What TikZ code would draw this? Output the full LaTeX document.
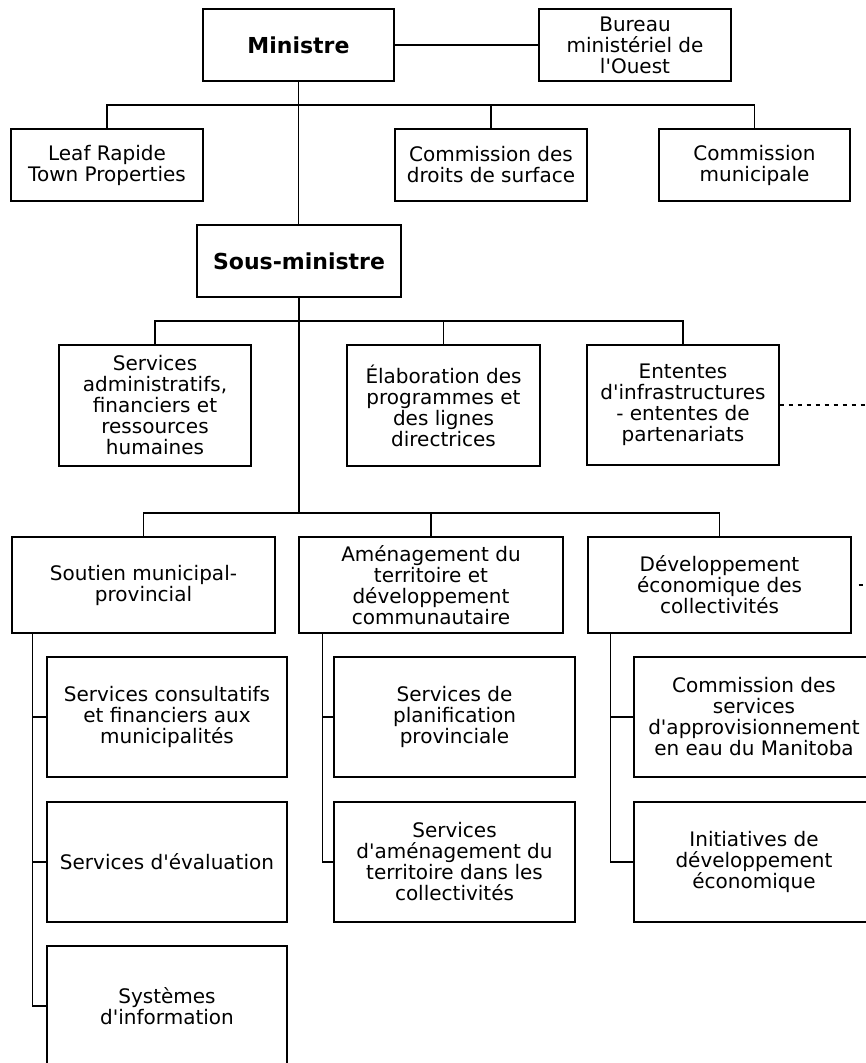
\documentclass[tikz,border=0pt]{standalone}
\usepackage{fontspec}
\setmainfont{DejaVu Sans}
\newcommand{\sq}{\textquotesingle}
\begin{document}
\begin{tikzpicture}[x=1pt,y=-1pt,
  box/.style={draw, line width=1.4pt, inner sep=0pt, align=center, font=\fontsize{20}{21}\selectfont},
  boldbox/.style={box, font=\fontsize{22}{24}\selectfont\bfseries},
  size/.style 2 args={minimum width=#1pt, minimum height=#2pt},
  conn/.style={line width=1.4pt},
  dots/.style={line width=1.4pt, dash pattern=on 4pt off 5pt}]
\useasboundingbox (0,0) rectangle (866,1063);
\clip (0,0) rectangle (866,1063);
\fill[white] (0,0) rectangle (866,1063);

% level 1
\node[boldbox, size={191}{72}] (min) at (298.5,45) {Ministre};
\node[box, size={192}{72}] (bur) at (635,45) {Bureau\\ministériel de\\l\sq Ouest};
\node[box, size={192}{72}] (leaf) at (107,165) {Leaf Rapide\\Town Properties};
\node[box, size={192}{72}] (cdr) at (491,165) {Commission des\\droits de surface};
\node[box, size={191}{72}] (cmun) at (754.5,165) {Commission\\municipale};

% level 2
\node[boldbox, size={204}{72}] (sous) at (299,261) {Sous-ministre};
\node[box, size={192}{121}] (sadm) at (155,405.5) {Services\\administratifs,\\financiers et\\ressources\\humaines};
\node[box, size={193}{121}] (elab) at (443.5,405.5) {Élaboration des\\programmes et\\des lignes\\directrices};
\node[box, size={192}{120}] (ent) at (683,405) {Ententes\\d\sq infrastructures\\- ententes de\\partenariats};

% level 3
\node[box, size={263}{96}] (sout) at (143.5,585) {Soutien municipal-\\provincial};
\node[box, size={264}{96}] (amen) at (431,585) {Aménagement du\\territoire et\\développement\\communautaire};
\node[box, size={263}{96}] (dev) at (719.5,585) {Développement\\économique des\\collectivités};

% level 4
\node[box, size={240}{120}] (s1) at (167,717) {Services consultatifs\\et financiers aux\\municipalités};
\node[box, size={240}{120}] (s2) at (167,862) {Services d\sq évaluation};
\node[box, size={240}{120}] (s3) at (167,1006) {Systèmes\\d\sq information};
\node[box, size={241}{120}] (a1) at (454.5,717) {Services de\\planification\\provinciale};
\node[box, size={241}{120}] (a2) at (454.5,862) {Services\\d\sq aménagement du\\territoire dans les\\collectivités};
\node[box, size={240}{120}] (d1) at (754,717) {Commission des\\services\\d\sq approvisionnement\\en eau du Manitoba};
\node[box, size={240}{120}] (d2) at (754,862) {Initiatives de\\développement\\économique};

% bus coordinates
\coordinate (b1) at (0,105);
\coordinate (b2) at (0,321);
\coordinate (b3) at (0,513);

% connectors level 1
\draw[conn] (min.east) -- (bur.west);
\draw[conn] (min.south) -- (min.south |- sous.north);
\draw[conn] (leaf.north) -- (leaf.north |- b1) -- (cmun.north |- b1) -- (cmun.north);
\draw[conn] (cdr.north) -- (cdr.north |- b1);

% connectors level 2
\draw[conn] (sous.south) -- (sous.south |- b3);
\draw[conn] (sadm.north) -- (sadm.north |- b2) -- (ent.north |- b2) -- (ent.north);
\draw[conn] (elab.north) -- (elab.north |- b2);
\coordinate (eR) at (866,405);
\draw[dots] (ent.east) -- (eR);

% connectors level 3
\draw[conn] (sout.north) -- (sout.north |- b3) -- (dev.north |- b3) -- (dev.north);
\draw[conn] (amen.north) -- (amen.north |- b3);
\coordinate (dR) at (866,585);
\draw[line width=1.4pt, dash pattern=on 0pt off 7pt on 4pt off 30pt] (dev.east) -- (dR);

% sub connectors
\coordinate (sl) at ([xshift=21pt]sout.south west);
\draw[conn] (sl) |- (s3.west);
\draw[conn] (s1.west) -- (s1.west -| sl);
\draw[conn] (s2.west) -- (s2.west -| sl);

\coordinate (al) at ([xshift=24pt]amen.south west);
\draw[conn] (al) |- (a2.west);
\draw[conn] (a1.west) -- (a1.west -| al);

\coordinate (dl) at ([xshift=23pt]dev.south west);
\draw[conn] (dl) |- (d2.west);
\draw[conn] (d1.west) -- (d1.west -| dl);
\end{tikzpicture}
\end{document}
